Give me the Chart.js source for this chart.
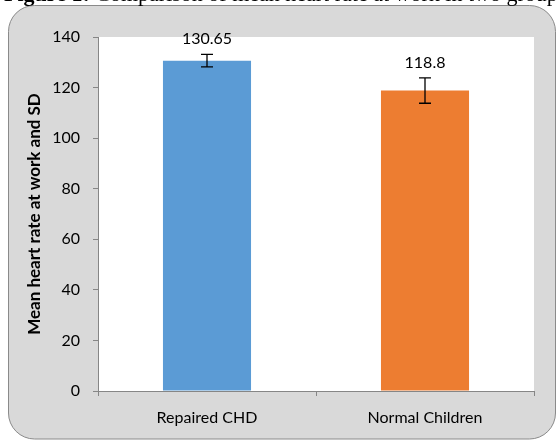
<!DOCTYPE html>
<html>
<head>
<meta charset="utf-8">
<script src="https://cdn.jsdelivr.net/npm/chart.js@4"></script>
<style>
  html, body { margin: 0; padding: 0; background: #ffffff; overflow: hidden; }
  #wrap { position: relative; width: 557px; height: 442px; overflow: hidden; }
  #c { position: absolute; left: 0; top: 0; }
  #cap { position: absolute; left: 4px; top: -17px; white-space: nowrap;
         font-family: "Liberation Serif", "DejaVu Serif", serif; font-size: 22px; line-height: 22px; color: #000; }
</style>
</head>
<body>
<div id="wrap">
  <canvas id="c" width="557" height="442"></canvas>
  <div id="cap"><b>Figure 1:</b> Comparison of mean heart rate at work in two groups</div>
</div>
<script>
const categories = ["Repaired CHD", "Normal Children"];
const meanHeartRate = [130.65, 118.8];
const sdHeartRate = [2.5, 5.0];
const barColors = ["#5b9bd5", "#ed7d31"];
const yAxisTitle = "Mean heart rate at work and SD";

const FONT = "Lato, 'Open Sans', sans-serif";

const background = {
  id: 'background',
  beforeDraw(chart) {
    const ctx = chart.ctx;
    ctx.save();
    ctx.fillStyle = '#ffffff';
    ctx.fillRect(0, 0, chart.width, chart.height);
    const x = 8.5, y = 5.5, w = 547, h = 433.5, r = 26;
    ctx.beginPath();
    ctx.moveTo(x + r, y);
    ctx.lineTo(x + w - r, y);
    ctx.arcTo(x + w, y, x + w, y + r, r);
    ctx.lineTo(x + w, y + h - r);
    ctx.arcTo(x + w, y + h, x + w - r, y + h, r);
    ctx.lineTo(x + r, y + h);
    ctx.arcTo(x, y + h, x, y + h - r, r);
    ctx.lineTo(x, y + r);
    ctx.arcTo(x, y, x + r, y, r);
    ctx.closePath();
    ctx.fillStyle = '#d9d9d9';
    ctx.fill();
    ctx.strokeStyle = '#8a8a8a';
    ctx.lineWidth = 1;
    ctx.stroke();
    const a = chart.chartArea;
    ctx.fillStyle = '#ffffff';
    ctx.fillRect(a.left, a.top, a.right - a.left, a.bottom - a.top);
    ctx.restore();
  }
};

const errorBarsAndLabels = {
  id: 'errorBarsAndLabels',
  afterDatasetsDraw(chart) {
    const ctx = chart.ctx;
    const yScale = chart.scales.y;
    const meta = chart.getDatasetMeta(0);
    ctx.save();
    meta.data.forEach((bar, i) => {
      const m = meanHeartRate[i], sd = sdHeartRate[i];
      const yTop = yScale.getPixelForValue(m + sd);
      const yBot = yScale.getPixelForValue(m - sd);
      const x = bar.x;
      ctx.strokeStyle = '#000000';
      ctx.lineWidth = 1.3;
      ctx.beginPath();
      ctx.moveTo(x, yTop); ctx.lineTo(x, yBot);
      ctx.moveTo(x - 6, yTop); ctx.lineTo(x + 6, yTop);
      ctx.moveTo(x - 6, yBot); ctx.lineTo(x + 6, yBot);
      ctx.stroke();
      ctx.fillStyle = '#000000';
      ctx.font = "16px " + FONT;
      ctx.textAlign = 'center';
      ctx.textBaseline = 'middle';
      ctx.fillText(String(m), x, yTop - 15.5);
    });
    ctx.restore();
  }
};

new Chart(document.getElementById('c'), {
  type: 'bar',
  data: {
    labels: categories,
    datasets: [{
      data: meanHeartRate,
      backgroundColor: barColors,
      borderWidth: 0,
      categoryPercentage: 1.0,
      barPercentage: 0.404
    }]
  },
  options: {
    responsive: false,
    animation: false,
    devicePixelRatio: 1,
    layout: { padding: { left: 0, right: 23, top: 37, bottom: 0 } },
    plugins: { legend: { display: false }, tooltip: { enabled: false }, title: { display: false } },
    scales: {
      x: {
        afterFit(scale) { scale.height = 51; },
        grid: { drawOnChartArea: false, drawTicks: true, tickLength: 5, color: '#868686', offset: true },
        border: { color: '#868686', width: 1 },
        ticks: { color: '#000000', font: { family: FONT, size: 16 }, padding: 12 }
      },
      y: {
        min: 0, max: 140,
        afterFit(scale) { scale.width = 98; },
        grid: { drawOnChartArea: false, drawTicks: true, tickLength: 5, color: '#868686' },
        border: { color: '#868686', width: 1 },
        ticks: { stepSize: 20, color: '#000000', font: { family: FONT, size: 16 }, padding: 13 },
        title: { display: true, text: yAxisTitle, color: '#000000',
                 font: { family: FONT, size: 17, weight: 'bold' }, padding: { top: 24, bottom: 0 } }
      }
    }
  },
  plugins: [background, errorBarsAndLabels]
});
</script>
</body>
</html>
